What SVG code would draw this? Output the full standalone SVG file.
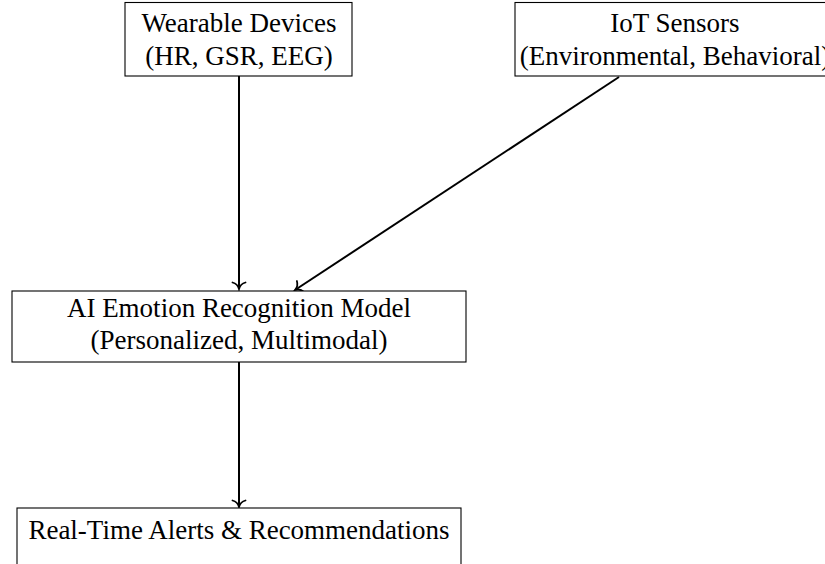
<svg xmlns="http://www.w3.org/2000/svg" width="825" height="564" viewBox="0 0 825 564">
  <style>
    .box { fill: #fff; stroke: #000; stroke-width: 1.1; }
    .lbl { font-family: "Liberation Serif", "Times New Roman", serif; font-size: 27px; fill: #000; text-anchor: middle; }
    .edge { fill: none; stroke: #000; stroke-width: 2; }
  </style>
  <defs>
    <marker id="to" markerUnits="userSpaceOnUse" viewBox="-8 -8 10 16" markerWidth="10" markerHeight="16" refX="0" refY="0" orient="auto" overflow="visible">
      <path d="M-6.5,-6.5 C-5.5,-2.8 -2.2,-0.6 0,0 C-2.2,0.6 -5.5,2.8 -6.5,6.5" fill="none" stroke="#000" stroke-width="1.8" stroke-linecap="round"/>
    </marker>
  </defs>

  <g id="connectors">
    <line class="edge" x1="239" y1="76" x2="239" y2="289" marker-end="url(#to)"/>
    <line class="edge" x1="619" y1="77" x2="295" y2="290" marker-end="url(#to)"/>
    <line class="edge" x1="239" y1="362" x2="239" y2="507" marker-end="url(#to)"/>
  </g>

  <g id="wearable">
    <rect class="box" x="125" y="2.5" width="227" height="73.5"/>
    <text class="lbl" x="239" y="32">Wearable Devices</text>
    <text class="lbl" x="239" y="64.5">(HR, GSR, EEG)</text>
  </g>

  <g id="iot">
    <rect class="box" x="515" y="2.5" width="320" height="73.5"/>
    <text class="lbl" x="675" y="32">IoT Sensors</text>
    <text class="lbl" x="675" y="64.5">(Environmental, Behavioral)</text>
  </g>

  <g id="model">
    <rect class="box" x="12" y="291" width="454" height="71"/>
    <text class="lbl" x="239" y="317">AI Emotion Recognition Model</text>
    <text class="lbl" x="239" y="349">(Personalized, Multimodal)</text>
  </g>

  <g id="alerts">
    <rect class="box" x="17" y="508" width="444" height="70"/>
    <text class="lbl" x="239" y="539">Real-Time Alerts &amp; Recommendations</text>
  </g>
</svg>
